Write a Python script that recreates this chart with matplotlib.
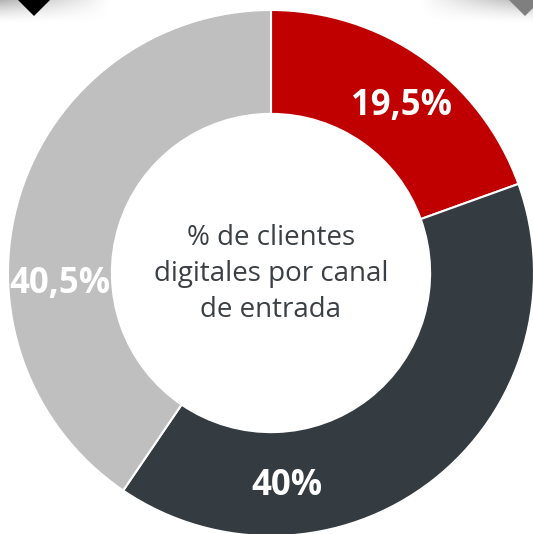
import matplotlib
matplotlib.use("Agg")
import matplotlib.pyplot as plt
import numpy as np
from matplotlib.patches import Polygon

# ---- data ----
channels = ["Canal A", "Canal B", "Canal C"]
shares = [19.5, 40.0, 40.5]
share_labels = ["19,5%", "40%", "40,5%"]
center_title = "% de clientes\ndigitales por canal\nde entrada"

colors = ["#C00000", "#343B41", "#BFBFBF"]

W, H = 533, 534
fig = plt.figure(figsize=(W / 100, H / 100), dpi=100)
ax = fig.add_axes([0, 0, 1, 1])
ax.set_xlim(0, W)
ax.set_ylim(0, H)
ax.set_aspect("equal")
ax.axis("off")

cx, cy = 271, H - 273
R = 263

wedges, _ = ax.pie(shares, colors=colors, startangle=90, counterclock=False,
                   radius=R, center=(cx, cy), frame=True,
                   wedgeprops=dict(width=R * 0.395, edgecolor="white", linewidth=1.5))
ax.set_xlim(0, W)
ax.set_ylim(0, H)
ax.axis("off")

# label positions (angle in degrees, radius) - manually placed as in the reference
label_pos = [(52.0, 212), (-85.7, 214), (183.0, 211)]
for lab, (ang, r) in zip(share_labels, label_pos):
    a = np.deg2rad(ang)
    ax.text(cx + r * np.cos(a), cy + r * np.sin(a), lab, ha="center", va="center",
            color="white", fontsize=25, fontweight="bold", family="Open Sans")

ax.text(cx, cy - 1, center_title, ha="center", va="center", color="#3B4045",
        fontsize=20, family="Open Sans", linespacing=1.36)

# decorative shadow gradients at top
grad = np.zeros((24, W, 4))
ys = np.linspace(1, 0, 24)[:, None]
xs = np.arange(W)[None, :]
left = np.clip(1 - xs / 110, 0, 1)
right = np.clip((xs - 420) / 113, 0, 1)
alpha = ys ** 1.5 * np.maximum(left, right) * 0.45
grad[..., 0:3] = 0.35
grad[..., 3] = alpha
ax.imshow(grad, extent=(0, W, H - 24, H), origin="upper", zorder=0, aspect="auto")

ax.add_patch(Polygon([(18, H), (50, H), (34, H - 16)], closed=True,
                     facecolor="black", edgecolor="none", zorder=3))
ax.add_patch(Polygon([(509, H), (541, H), (525, H - 16)], closed=True,
                     facecolor="#7F7F7F", edgecolor="none", zorder=3))
ax.set_xlim(0, W)
ax.set_ylim(0, H)

fig.savefig("out.png", dpi=100, facecolor="white")
